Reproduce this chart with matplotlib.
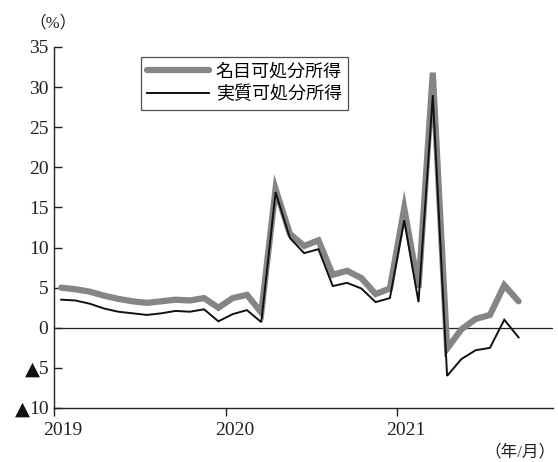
import matplotlib
matplotlib.use("Agg")
import matplotlib.pyplot as plt
from matplotlib.transforms import ScaledTranslation

plt.rcParams['font.family'] = ['Liberation Serif', 'Noto Sans CJK JP', 'DejaVu Sans']

# Monthly data: 2019/1 .. 2021/9
months = list(range(33))
nominal = [5.0, 4.8, 4.5, 4.0, 3.6, 3.3, 3.1, 3.3, 3.5, 3.4, 3.7, 2.5,
           3.7, 4.1, 1.9, 17.3, 11.7, 10.2, 10.9, 6.6, 7.1, 6.2, 4.2, 4.9,
           14.9, 5.0, 31.8, -2.6, -0.2, 1.1, 1.6, 5.3, 3.3]
real = [3.5, 3.4, 3.0, 2.4, 2.0, 1.8, 1.6, 1.8, 2.1, 2.0, 2.3, 0.8,
        1.7, 2.2, 0.7, 16.9, 11.2, 9.3, 9.8, 5.2, 5.6, 4.9, 3.2, 3.7,
        13.4, 3.2, 29.0, -6.0, -3.9, -2.8, -2.5, 1.0, -1.2]
series_labels = ['名目可処分所得', '実質可処分所得']
year_labels = ['2019', '2020', '2021']
year_pos = [-0.5, 11.5, 23.5]
ytick_vals = [-10, -5, 0, 5, 10, 15, 20, 25, 30, 35]
ytick_labels = ['10', '5', '0', '5', '10', '15', '20', '25', '30', '35']
neg_mark = '▲'

fig = plt.figure(figsize=(5.58, 4.62), dpi=100)
ax = fig.add_axes([0.0968, 0.1169, 0.894, 0.7814])

ax.plot(months, nominal, color='#858585', lw=4.5, solid_capstyle='round',
        solid_joinstyle='miter', label=series_labels[0], zorder=3)
ax.plot(months, real, color='#111111', lw=1.4, solid_joinstyle='miter',
        label=series_labels[1], zorder=4)
ax.axhline(0, color='#222222', lw=0.9, zorder=2)

ax.set_xlim(-0.5, 34.4)
ax.set_ylim(-10, 35)
ax.set_yticks(ytick_vals)
ax.set_yticklabels(ytick_labels)
ax.set_xticks(year_pos)
ax.set_xticklabels(year_labels)

for s in ['top', 'right']:
    ax.spines[s].set_visible(False)
for s in ['left', 'bottom']:
    ax.spines[s].set_linewidth(1.0)
    ax.spines[s].set_color('#222222')

ax.tick_params(axis='y', direction='in', length=6, width=1.0, labelsize=14,
               pad=4, colors='#222222')
ax.tick_params(axis='x', direction='out', length=6, width=1.0, labelsize=14,
               pad=4, colors='#222222')

# shift year labels slightly to the right of their ticks
offset = ScaledTranslation(9 / 100, 0, fig.dpi_scale_trans)
for lab in ax.get_xticklabels():
    lab.set_transform(lab.get_transform() + offset)

leg = ax.legend(loc='upper left', bbox_to_anchor=(0.174, 0.972), frameon=True,
                fancybox=False, fontsize=13, handlelength=3.4,
                borderpad=0.35, labelspacing=0.3, handletextpad=0.4,
                borderaxespad=0)
leg.get_frame().set_edgecolor('#222222')
leg.get_frame().set_linewidth(0.9)

fig.text(0.095, 0.95, '（%）', fontsize=12, ha='center', va='center', color='#222222')
fig.text(0.995, 0.021, '（年/月）', fontsize=12, ha='right', va='center', color='#222222')

# Add the ▲ (negative) marks in front of negative tick labels
fig.canvas.draw()
renderer = fig.canvas.get_renderer()
inv = fig.transFigure.inverted()
for val, lab in zip(ax.get_yticks(), ax.get_yticklabels()):
    if val < 0:
        bb = lab.get_window_extent(renderer)
        x0, yc = inv.transform((bb.x0, (bb.y0 + bb.y1) / 2))
        fig.text(x0 + 0.002, yc + 0.001, neg_mark, family='DejaVu Sans', fontsize=14,
                 ha='right', va='center', color='#111111')

fig.savefig('out.png', dpi=100)
